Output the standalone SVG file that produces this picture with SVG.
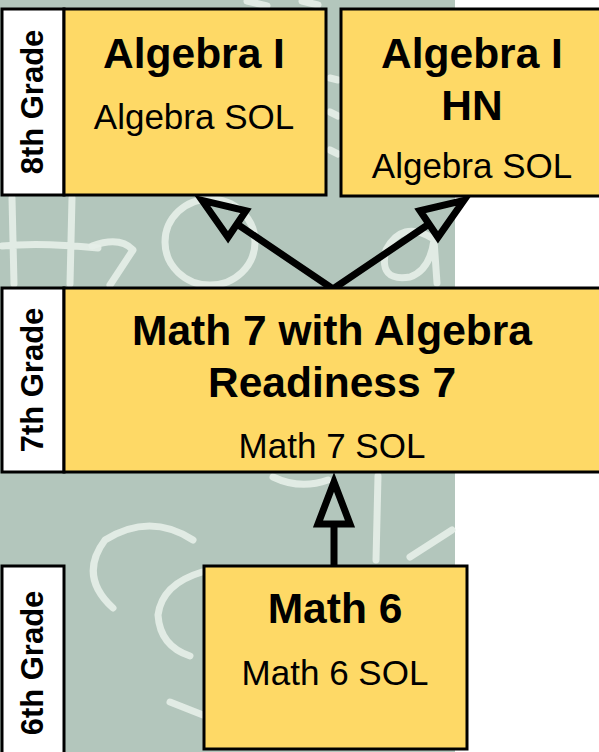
<svg xmlns="http://www.w3.org/2000/svg" width="599" height="752" viewBox="0 0 599 752">
  <style>
    .chalk { fill: none; stroke: #e6eee8; stroke-width: 7; stroke-linecap: round; stroke-linejoin: round; opacity: 0.9; }
    .label { fill: #ffffff; stroke: #000000; stroke-width: 3; }
    .box { fill: #fed966; stroke: #000000; stroke-width: 3; }
    .lbl { font-family: "Liberation Sans", Arial, sans-serif; font-weight: bold; font-size: 31px; fill: #000; text-anchor: middle; }
    .title { font-family: "Liberation Sans", Arial, sans-serif; font-weight: bold; font-size: 42.5px; fill: #000; text-anchor: middle; }
    .sub { font-family: "Liberation Sans", Arial, sans-serif; font-size: 35px; fill: #000; text-anchor: middle; }
    .conn { fill: none; stroke: #000000; stroke-width: 7; stroke-linejoin: miter; }
  </style>
  <defs>
    <marker id="hollow" markerUnits="userSpaceOnUse" orient="auto-start-reverse" refX="0" refY="0" overflow="visible" markerWidth="1" markerHeight="1">
      <path d="M0,-16 L42,0 L0,16 Z" fill="none" stroke="#000000" stroke-width="7" stroke-linejoin="miter"/>
    </marker>
  </defs>

  <rect x="0" y="0" width="599" height="752" fill="#ffffff"/>
  <g id="chalkboard">
    <rect x="0" y="0" width="455" height="752" fill="#b3c6bc"/>
    <path class="chalk" d="M12,198 L14,284 M72,198 L70,284 M2,246 Q40,242 98,248"/>
    <path class="chalk" d="M92,246 Q120,236 133,250 L110,285"/>
    <ellipse class="chalk" cx="210" cy="242" rx="45" ry="43"/>
    <path class="chalk" d="M432,238 Q402,220 386,250 Q378,282 410,277 Q430,270 434,240 L437,283"/>
    <path class="chalk" d="M193,540 Q150,512 105,540 Q78,576 113,608"/>
    <path class="chalk" d="M202,572 Q162,584 158,615 Q160,646 190,656"/>
    <path class="chalk" d="M170,702 L203,715" stroke-width="9"/>
    <path class="chalk" d="M378,476 L376,560" stroke-width="14" opacity="0.6"/>
    <path class="chalk" d="M410,557 L452,530"/>
    <path class="chalk" d="M273,477 Q300,490 328,480"/>
    <path class="chalk" d="M247,1 L267,6 M302,1 L318,5"/>
    <path class="chalk" d="M330,78 L338,80 M330,112 L338,116 M330,150 L338,154" opacity="0.6"/>
  </g>

  <g id="connectors">
    <path class="conn" d="M237,224 L333,289 L429,224" marker-start="url(#hollow)" marker-end="url(#hollow)"/>
    <path class="conn" d="M334,566 L334,524" marker-end="url(#hollow)"/>
  </g>

  <g id="grade8">
    <rect class="label" x="2" y="9" width="62" height="186"/>
    <text class="lbl" transform="translate(43,102) rotate(-90)">8th Grade</text>
  </g>
  <g id="algebra1">
    <rect class="box" x="64" y="9" width="262" height="186"/>
    <text class="title" x="194" y="68">Algebra I</text>
    <text class="sub" x="194" y="129">Algebra SOL</text>
  </g>
  <g id="algebra1hn">
    <rect class="box" x="341" y="9" width="264" height="187"/>
    <text class="title" x="472" y="68">Algebra I</text>
    <text class="title" x="472" y="120">HN</text>
    <text class="sub" x="472" y="178">Algebra SOL</text>
  </g>

  <g id="grade7">
    <rect class="label" x="2" y="288" width="62" height="184"/>
    <text class="lbl" transform="translate(43,380) rotate(-90)">7th Grade</text>
  </g>
  <g id="math7">
    <rect class="box" x="64" y="288" width="540" height="184"/>
    <text class="title" x="332" y="345">Math 7 with Algebra</text>
    <text class="title" x="332" y="397">Readiness 7</text>
    <text class="sub" x="332" y="458">Math 7 SOL</text>
  </g>

  <g id="grade6">
    <rect class="label" x="2" y="566" width="62" height="200"/>
    <text class="lbl" transform="translate(43,663) rotate(-90)">6th Grade</text>
  </g>
  <g id="math6">
    <rect class="box" x="204" y="566" width="263" height="183"/>
    <text class="title" x="335" y="623">Math 6</text>
    <text class="sub" x="335" y="685">Math 6 SOL</text>
  </g>
</svg>
